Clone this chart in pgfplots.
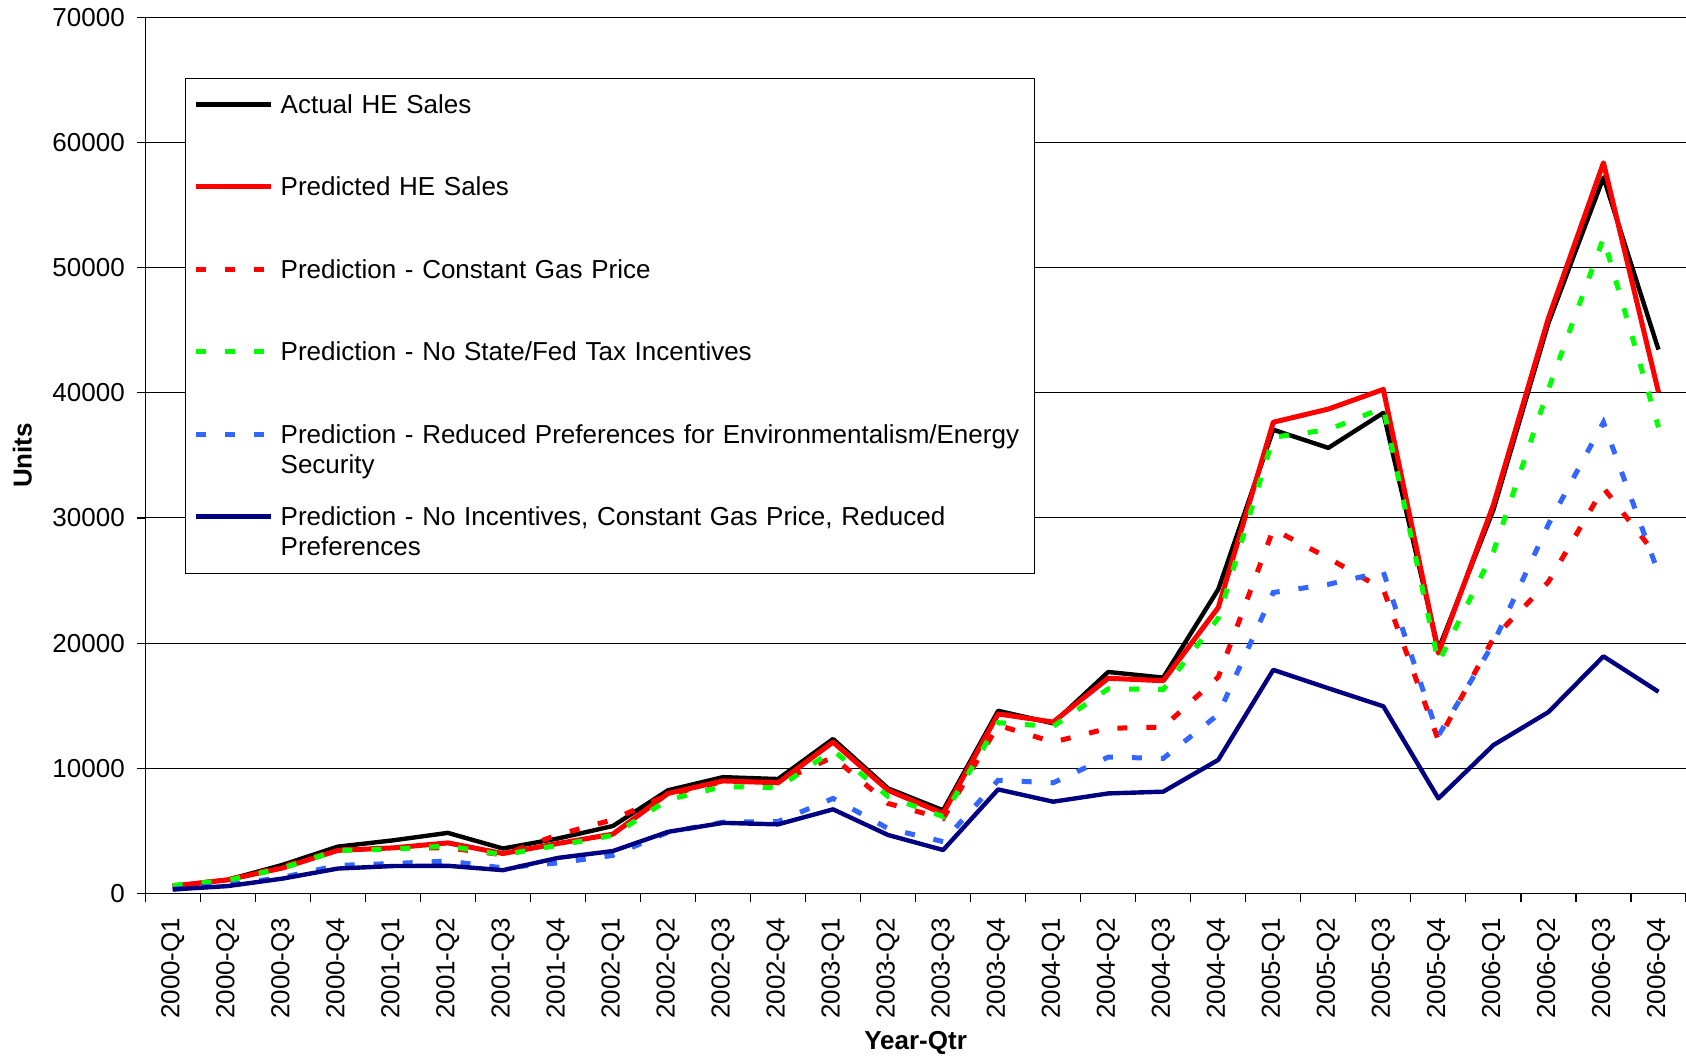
\documentclass[border=0pt]{standalone}
\usepackage{fontspec}
\setmainfont{Liberation Sans}
\usepackage{pgfplots}
\pgfplotsset{compat=1.18}
\usepackage{pgfplotstable}

\definecolor{navyc}{RGB}{0,0,128}
\definecolor{bluec}{RGB}{51,102,255}
\definecolor{greenc}{RGB}{0,255,0}
\definecolor{redc}{RGB}{255,0,0}

\pgfplotstableread{
i A P CG NT RP N
0 600 600 600 650 350 330
1 1100 1100 1100 1050 700 600
2 2300 2050 2150 2050 1300 1200
3 3750 3450 3500 3450 2250 2000
4 4250 3650 3650 3550 2400 2200
5 4850 4050 3650 3800 2600 2220
6 3600 3200 3100 3100 2050 1870
7 4400 4000 4700 3850 2450 2850
8 5400 4750 5900 4650 3050 3400
9 8250 8000 7900 7500 4900 4930
10 9300 9000 8950 8550 5700 5650
11 9150 8850 8900 8450 5750 5530
12 12350 12100 10900 11450 7600 6730
13 8400 8250 7200 7750 5200 4680
14 6650 6400 6000 6150 4150 3480
15 14600 14350 13450 13650 9050 8320
16 13600 13700 12100 13350 8850 7340
17 17700 17200 13200 16350 10900 8000
18 17250 17000 13300 16300 10800 8140
19 24300 22850 17300 22000 14300 10680
20 37050 37650 29100 36450 24050 17870
21 35600 38700 26800 37050 24700 16400
22 38400 40270 24300 38800 25700 14960
23 19500 19200 12250 18450 12600 7600
24 30650 31050 20400 27300 20000 11860
25 45580 45970 24900 40300 29500 14500
26 57200 58370 32400 52360 37640 18950
27 43450 40040 26800 37250 25600 16120
}\datatable

\begin{document}
\fontsize{13}{15}\selectfont
\begin{tikzpicture}
\useasboundingbox (-72.6pt,-82.2pt) rectangle (770.4pt,446.8pt);
\begin{axis}[
  at={(0pt,0pt)}, anchor=south west,
  scale only axis, width=770.4pt, height=438.2pt,
  xmin=-0.5, xmax=27.5, ymin=0, ymax=70000,
  axis x line*=bottom, axis y line*=left,
  axis line style={line width=0.6pt, black},
  xtick={-0.5,0.5,...,27.5},
  x tick label as interval,
  xticklabels={2000-Q1,2000-Q2,2000-Q3,2000-Q4,2001-Q1,2001-Q2,2001-Q3,2001-Q4,2002-Q1,2002-Q2,2002-Q3,2002-Q4,2003-Q1,2003-Q2,2003-Q3,2003-Q4,2004-Q1,2004-Q2,2004-Q3,2004-Q4,2005-Q1,2005-Q2,2005-Q3,2005-Q4,2006-Q1,2006-Q2,2006-Q3,2006-Q4},
  xticklabel style={rotate=90, anchor=east},
  xticklabel shift=3.5pt,
  ytick={0,10000,20000,30000,40000,50000,60000,70000},
  scaled y ticks=false,
  /pgf/number format/1000 sep={},
  /pgf/number format/assume math mode=true,
  yticklabel shift=1.7pt,
  ymajorgrids, grid style={black, line width=0.5pt},
  tick align=outside, major tick length=4pt,
  tick style={black, line width=0.6pt},
  xlabel={Year-Qtr}, ylabel={Units},
  xlabel style={at={(axis description cs:0.5,-0.170)}, anchor=center, font=\bfseries},
  ylabel style={at={(axis description cs:-0.0798,0.5)}, anchor=center, font=\bfseries},
  legend image code/.code={\draw[#1] (0pt,4.5pt) -- (37.5pt,4.5pt);},
  legend style={at={(axis description cs:0.02596,0.9311)}, anchor=north west,
    draw=black, line width=0.5pt, fill=white,
    inner xsep=4pt, inner ysep=0.3pt, row sep=0pt, column sep=0pt,
    cells={anchor=base west},
    nodes={text height=17.4pt, text depth=23.8pt, inner ysep=0pt, inner xsep=3.5pt, text width=369.3pt, align=left}},
]
\addplot[black, line width=2.2pt, line join=round] table[x=i, y=A] {\datatable};
\addlegendentry{Actual HE Sales}
\addplot[redc, line width=2.5pt, line join=round] table[x=i, y=P] {\datatable};
\addlegendentry{Predicted HE Sales}
\addplot[redc, line width=2.5pt, dash pattern=on 5pt off 9.5pt] table[x=i, y=CG] {\datatable};
\addlegendentry{Prediction - Constant Gas Price}
\addplot[greenc, line width=2.5pt, dash pattern=on 5pt off 9.5pt] table[x=i, y=NT] {\datatable};
\addlegendentry{Prediction - No State/Fed Tax Incentives}
\addplot[bluec, line width=2.5pt, dash pattern=on 5pt off 9.5pt] table[x=i, y=RP] {\datatable};
\addlegendentry{Prediction - Reduced Preferences for Environmentalism/Energy\\Security}
\addplot[navyc, line width=2.2pt, line join=round] table[x=i, y=N] {\datatable};
\addlegendentry{Prediction - No Incentives, Constant Gas Price, Reduced\\Preferences}
\end{axis}
\end{tikzpicture}
\end{document}
